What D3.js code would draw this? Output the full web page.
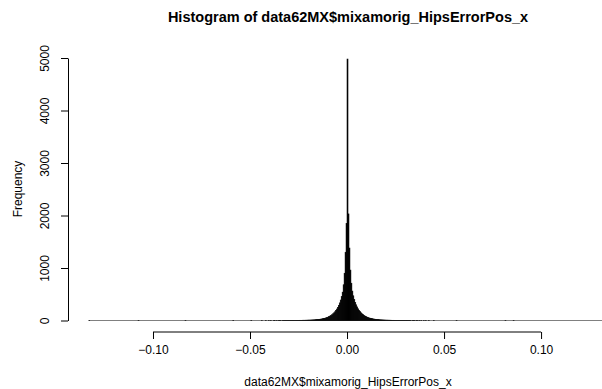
<!DOCTYPE html>
<html lang="en">
<head>
<meta charset="UTF-8">
<script src="https://d3js.org/d3.v7.min.js"></script>
<style>
  body { margin: 0; background: #fff; }
  text { font-family: "Liberation Sans", Arial, sans-serif; fill: #000; }
</style>
</head>
<body>
<script>
    // histogram data, bins of 0.0005 starting at -0.045
    var binWidth = 0.0005;
    var coreStart = -0.045;
    var coreCounts = [
        // k = -90 .. -1
        0, 0, 1, 0, 0, 0, 1, 0, 0, 1,
        0, 1, 0, 0, 1, 1, 0, 1, 0, 1,
        1, 1, 0, 1, 1, 1, 2, 1, 1, 2,
        1, 2, 2, 2, 3, 2, 2, 3, 3, 3,
        3, 4, 4, 4, 5, 5, 5, 6, 6, 7,
        8, 8, 9, 10, 11, 12, 13, 15, 16, 18,
        20, 22, 25, 28, 31, 35, 39, 44, 49, 56,
        63, 73, 84, 96, 110, 127, 145, 165, 190, 218,
        250, 290, 335, 390, 455, 540, 680, 900, 1300, 1850,
        // k = 0 .. 89
        4980, 2030, 1380, 960, 710, 560, 470, 400, 345, 298,
        258, 224, 195, 170, 148, 129, 113, 98, 86, 75,
        65, 57, 50, 45, 40, 35, 31, 28, 25, 22,
        20, 18, 16, 14, 13, 12, 11, 10, 9, 8,
        7, 7, 6, 6, 5, 5, 4, 4, 4, 3,
        3, 3, 2, 3, 2, 2, 2, 2, 1, 2,
        1, 2, 1, 1, 1, 1, 0, 1, 1, 1,
        0, 1, 1, 0, 1, 0, 1, 0, 0, 1,
        0, 1, 0, 0, 1, 0, 0, 0, 0, 1
    ];
    // isolated outliers far in the tails
    var tailX = [-0.1331, -0.1077, -0.0835, -0.0589, -0.0496, 0.0562, 0.0814, 0.0856];
    var tailCounts = [1, 2, 2, 3, 3, 2, 2, 2];
    var dataRange = [-0.1331, 0.1341];

    var xTicks = [-0.10, -0.05, 0.00, 0.05, 0.10];
    var yTicks = [0, 1000, 2000, 3000, 4000, 5000];

    var width = 602, height = 389;

    var bins = [];
    coreCounts.forEach(function (c, i) {
        var x0 = coreStart + i * binWidth;
        bins.push({x0: x0, x1: x0 + binWidth, count: c});
    });
    tailX.forEach(function (x, i) {
        bins.push({x0: x, x1: x + binWidth, count: tailCounts[i]});
    });
    bins = bins.filter(d => d.count > 0);

    var xScale = d3.scaleLinear().domain([-0.1438, 0.1448]).range([68, 628]);
    var yScale = d3.scaleLinear().domain([0, 5000]).range([320.5, 58]);

    var svg = d3.select("body").append("svg")
        .attr("width", width)
        .attr("height", height);

    // zero-height bars make the grey baseline
    svg.append("line")
        .attr("x1", xScale(dataRange[0]))
        .attr("x2", xScale(dataRange[1]))
        .attr("y1", yScale(0))
        .attr("y2", yScale(0))
        .attr("stroke", "#808080")
        .attr("stroke-width", 1);

    svg.append("g").selectAll("rect")
        .data(bins)
        .enter()
        .append("rect")
        .attr("x", d => xScale(d.x0))
        .attr("width", d => xScale(d.x1) - xScale(d.x0))
        .attr("y", d => yScale(d.count))
        .attr("height", d => yScale(0) - yScale(d.count))
        .attr("fill", "#000")
        .attr("stroke", "#000")
        .attr("stroke-width", 0.6);

    // x axis, line only spans the ticks like R
    var xAxis = d3.axisBottom(xScale)
        .tickValues(xTicks)
        .tickFormat(d3.format(".2f"))
        .tickSizeOuter(0)
        .tickSizeInner(7)
        .tickPadding(6);
    var gx = svg.append("g")
        .attr("transform", "translate(0,332)")
        .call(xAxis);
    gx.select(".domain").remove();
    gx.append("line")
        .attr("x1", xScale(d3.min(xTicks)))
        .attr("x2", xScale(d3.max(xTicks)))
        .attr("stroke", "#000");
    gx.selectAll("text").style("font-size", "12px").attr("fill", "#000");

    // y axis
    var yAxis = d3.axisLeft(yScale)
        .tickValues(yTicks)
        .tickFormat(d3.format("d"))
        .tickSizeOuter(0)
        .tickSizeInner(7)
        .tickPadding(6);
    var gy = svg.append("g")
        .attr("transform", "translate(68,0)")
        .call(yAxis);
    gy.select(".domain").attr("stroke", "#000");
    gy.selectAll(".tick text")
        .style("font-size", "12px")
        .attr("fill", "#000")
        .attr("x", 0)
        .attr("dy", 0)
        .attr("text-anchor", "middle")
        .attr("transform", "translate(-19,0) rotate(-90)");

    svg.append("text")
        .attr("x", 348)
        .attr("y", 22)
        .attr("text-anchor", "middle")
        .style("font-size", "14.5px")
        .style("font-weight", "bold")
        .text("Histogram of data62MX$mixamorig_HipsErrorPos_x");

    svg.append("text")
        .attr("x", 348)
        .attr("y", 386)
        .attr("text-anchor", "middle")
        .style("font-size", "12px")
        .text("data62MX$mixamorig_HipsErrorPos_x");

    svg.append("text")
        .attr("transform", "translate(22,189) rotate(-90)")
        .attr("text-anchor", "middle")
        .style("font-size", "12px")
        .text("Frequency");
</script>
</body>
</html>
